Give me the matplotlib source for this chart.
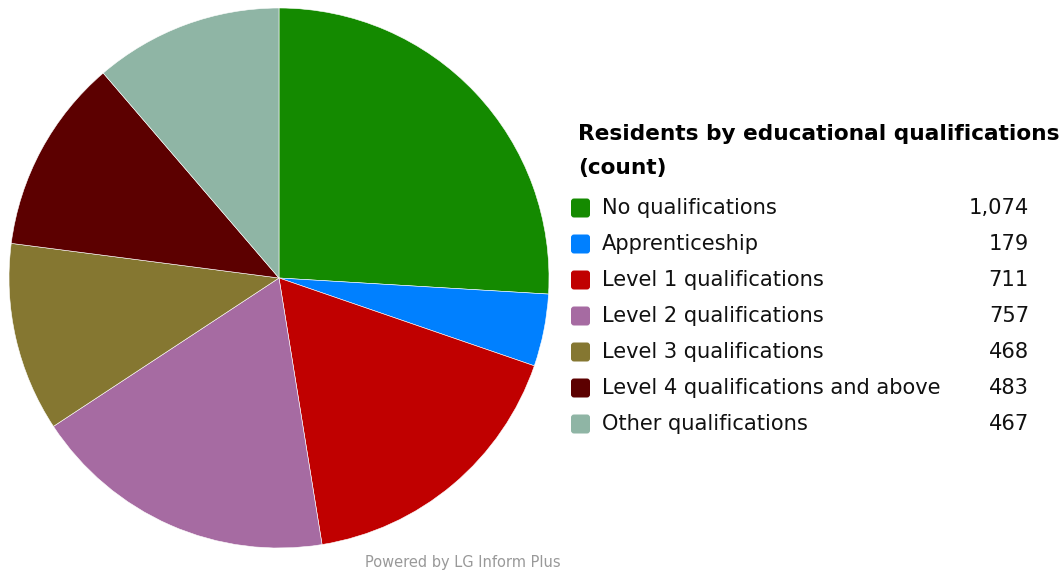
import matplotlib
matplotlib.use("Agg")
import matplotlib.pyplot as plt
from matplotlib.patches import FancyBboxPatch

plt.rcParams["font.family"] = "DejaVu Sans"

categories = ["No qualifications", "Apprenticeship", "Level 1 qualifications",
              "Level 2 qualifications", "Level 3 qualifications",
              "Level 4 qualifications and above", "Other qualifications"]
counts = [1074, 179, 711, 757, 468, 483, 467]
colors = ["#148A00", "#0080FF", "#C00000", "#A66BA2", "#857731", "#5C0000", "#8FB5A5"]

W, H = 1064, 572
fig = plt.figure(figsize=(W / 100, H / 100), dpi=100)
ax = fig.add_axes([0, 0, 1, 1])
ax.set_xlim(0, W); ax.set_ylim(0, H); ax.set_aspect("equal"); ax.axis("off")

# pie: centre (279, 278) in pixel coords (y from top)
ax.pie(counts, colors=colors, center=(279, H - 278), radius=270, startangle=90,
       counterclock=False, wedgeprops=dict(edgecolor="white", linewidth=0.4))
ax.set_xlim(0, W); ax.set_ylim(0, H)

# legend
ax.text(578, H - 134, "Residents by educational qualifications", fontsize=15.6,
        fontweight="bold", va="center", ha="left", color="black")
ax.text(578, H - 168, "(count)", fontsize=15.6, fontweight="bold", va="center", ha="left")
for i, (cat, n, c) in enumerate(zip(categories, counts, colors)):
    y = H - (208 + 36 * i)
    ax.add_patch(FancyBboxPatch((571, y - 9.5), 19, 19, boxstyle="round,pad=0,rounding_size=3",
                                fc=c, ec="none"))
    ax.text(602, y, cat, fontsize=15.1, va="center", ha="left", color="#111111")
    ax.text(1029, y, f"{n:,}", fontsize=15.1, va="center", ha="right", color="#111111")

ax.text(463, H - 562, "Powered by LG Inform Plus", fontsize=10.5, color="#999999",
        ha="center", va="center")

fig.savefig("out.png", dpi=100, facecolor="white")
